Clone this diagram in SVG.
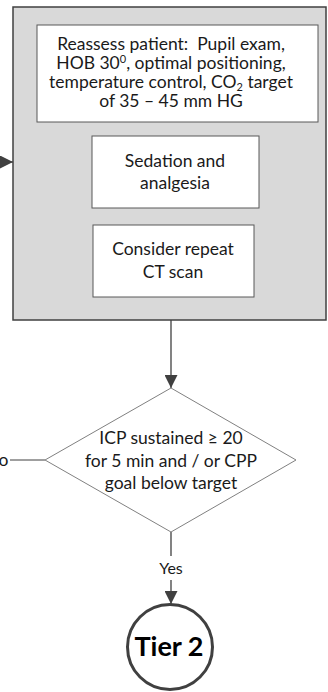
<svg xmlns="http://www.w3.org/2000/svg" width="328" height="692" viewBox="0 0 328 692">
<style>
text{font-family:Lato,"Open Sans","Liberation Sans",sans-serif;fill:#1a1a1a;text-anchor:middle}
.t{font-size:17.5px}
.box{fill:#fff;stroke:#595959;stroke-width:1}
.ln{stroke:#404040;stroke-width:1.3;fill:none}
</style>
<defs>
<marker id="ah2" viewBox="0 0 10 10" refX="10" refY="5" markerWidth="13" markerHeight="13" markerUnits="userSpaceOnUse" orient="auto"><path d="M0,0L10,5L0,10z" fill="#404040"/></marker>
</defs>
<g id="connectors">
<line class="ln" x1="0" y1="162" x2="13" y2="162" marker-end="url(#ah2)"/>
<line class="ln" x1="171" y1="320" x2="171" y2="388" marker-end="url(#ah2)"/>
<line x1="10" y1="460" x2="45" y2="460" stroke="#404040" stroke-width="1"/>
<text x="8.5" y="466" class="t" style="text-anchor:end">No</text>
<line class="ln" x1="171" y1="532" x2="171" y2="556"/>
<text x="171" y="574" style="font-size:16px">Yes</text>
<line class="ln" x1="171" y1="580" x2="171" y2="604" marker-end="url(#ah2)"/>
</g>
<g id="group">
<rect x="13" y="7" width="313" height="313" fill="#d9d9d9" stroke="#404040" stroke-width="1.5"/>
</g>
<g id="reassess">
<rect class="box" x="37" y="25" width="281" height="97"/>
<text class="t" x="171" y="50">Reassess patient:&#160; Pupil exam,</text>
<text class="t" x="171" y="69">HOB 30<tspan dy="-6" font-size="11px">0</tspan><tspan dy="6">, optimal positioning,</tspan></text>
<text class="t" x="171" y="88">temperature control, CO<tspan dy="3" font-size="11px">2</tspan><tspan dy="-3"> target</tspan></text>
<text class="t" x="171" y="107">of 35 – 45 mm HG</text>
</g>
<g id="sedation">
<rect class="box" x="92" y="136" width="167" height="72"/>
<text class="t" x="175" y="167">Sedation and</text>
<text class="t" x="175" y="189">analgesia</text>
</g>
<g id="ct">
<rect class="box" x="93" y="225" width="161" height="72"/>
<text class="t" x="173" y="255">Consider repeat</text>
<text class="t" x="173" y="278">CT scan</text>
</g>
<g id="decision">
<polygon points="171,388 296,460 171,532 45,460" fill="#fff" stroke="#808080" stroke-width="1"/>
<text class="t" x="171" y="444">ICP sustained ≥ 20</text>
<text class="t" x="171" y="467">for 5 min and / or CPP</text>
<text class="t" x="171" y="489">goal below target</text>
</g>
<g id="tier2">
<circle cx="170" cy="647" r="42.5" fill="#fff" stroke="#404040" stroke-width="3"/>
<text x="169" y="656" style="font-size:27px;font-weight:bold;fill:#000">Tier 2</text>
</g>
</svg>
